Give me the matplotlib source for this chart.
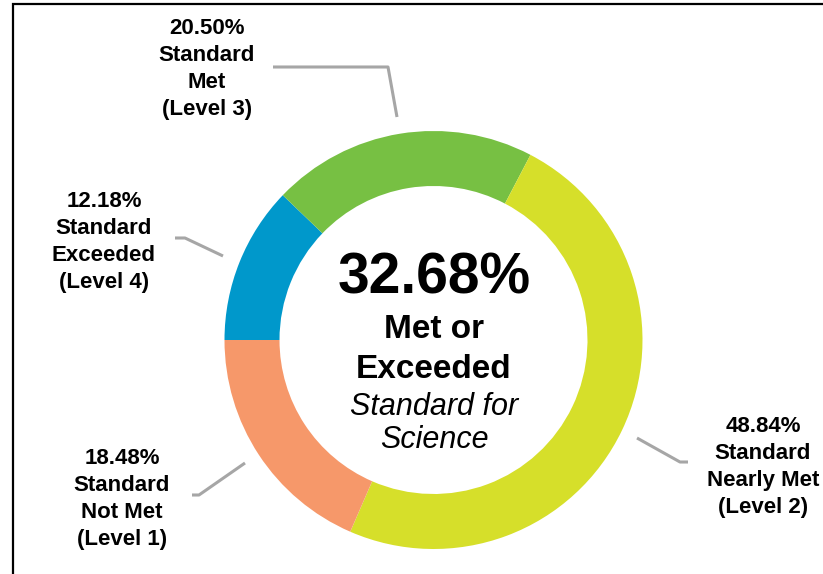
import matplotlib.pyplot as plt

# data (clockwise from 9 o'clock)
levels = ['Standard\nExceeded\n(Level 4)', 'Standard\nMet\n(Level 3)',
          'Standard\nNearly Met\n(Level 2)', 'Standard\nNot Met\n(Level 1)']
percents = [12.18, 20.50, 48.84, 18.48]
colors = ['#0098CB', '#77C043', '#D6DF2A', '#F6986A']

met_or_exceeded = percents[0] + percents[1]

W, H = 823, 574
plt.rcParams['font.family'] = ['Liberation Sans', 'DejaVu Sans']

fig = plt.figure(figsize=(W / 100, H / 100), dpi=100)
ax = fig.add_axes([0, 0, 1, 1])


def Y(y):
    # pixel rows from the top -> data y
    return H - y


ax.pie(percents, colors=colors, center=(433.5, Y(340)), radius=209,
       startangle=180, counterclock=False,
       wedgeprops=dict(width=55, linewidth=0))
ax.set_xlim(0, W)
ax.set_ylim(0, H)
ax.axis('off')

# label placement: (center x, first baseline) and leader line points
label_pos = [(104, 207), (207, 34), (763, 432), (122, 464)]
leaders = [
    [(175, 238), (185, 238), (223, 256)],
    [(273, 67), (388, 67), (397, 117)],
    [(637, 438), (680, 462), (688, 462)],
    [(192, 495), (199, 495), (245, 463)],
]
line_step = 27

for pct, name, (lx, ly), pts in zip(percents, levels, label_pos, leaders):
    lines = [f'{pct:.2f}%'] + name.split('\n')
    for i, s in enumerate(lines):
        ax.text(lx, Y(ly + i * line_step), s, ha='center', va='baseline',
                fontsize=16, fontweight='bold', color='black')
    ax.plot([p[0] for p in pts], [Y(p[1]) for p in pts],
            color='#A6A6A6', lw=2.2, solid_capstyle='butt')

# center text
cx = 434
ax.text(cx, Y(293), f'{met_or_exceeded:.2f}%', ha='center', va='baseline',
        fontsize=41, fontweight='bold')
ax.text(cx, Y(338), 'Met or', ha='center', va='baseline',
        fontsize=24, fontweight='bold')
ax.text(cx, Y(378), 'Exceeded', ha='center', va='baseline',
        fontsize=24, fontweight='bold')
ax.text(cx, Y(415), 'Standard for', ha='center', va='baseline',
        fontsize=22, fontstyle='italic')
ax.text(cx, Y(448), 'Science', ha='center', va='baseline',
        fontsize=22, fontstyle='italic')

# frame edges (left and top)
ax.plot([13, 13, W], [0, Y(3.5), Y(3.5)], color='black', lw=1.6,
        solid_joinstyle='miter')

fig.savefig('out.png', dpi=100)
